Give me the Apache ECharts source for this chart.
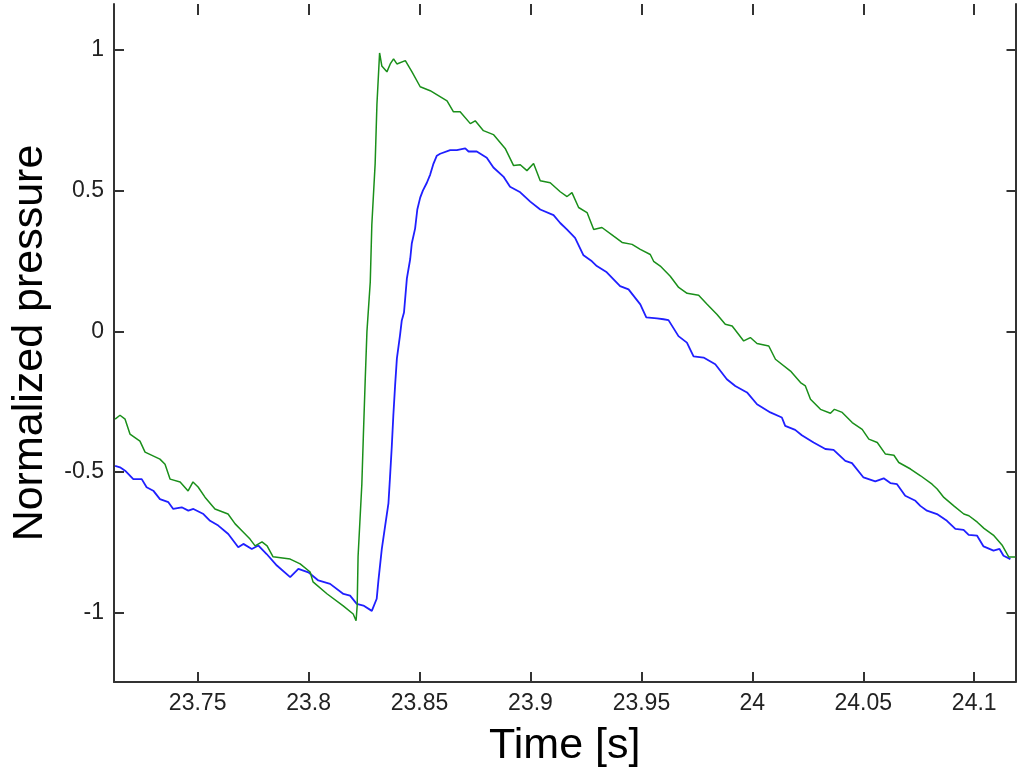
<!DOCTYPE html>
<html>
<head>
<meta charset="utf-8">
<script src="https://cdn.jsdelivr.net/npm/echarts@6/dist/echarts.min.js"></script>
<style>
html,body{margin:0;padding:0;background:#ffffff;}
#chart{width:1021px;height:773px;}
</style>
</head>
<body>
<div id="chart"></div>
<script>
// ---- data ----
var xTicks = [23.75, 23.8, 23.85, 23.9, 23.95, 24, 24.05, 24.1];
var yTicks = [-1, -0.5, 0, 0.5, 1];
var xRange = [23.7123, 24.1186];
var yRange = [-1.2457, 1.163];

var greenTime = [23.7128,23.7150,23.7173,23.7195,23.7240,23.7263,23.7330,23.7353,23.7376,23.7421,
23.7457,23.7479,23.7502,23.7533,23.7578,23.7637,23.7669,23.7705,23.7736,23.7759,
23.7790,23.7813,23.7840,23.7917,23.7962,23.8007,23.8020,23.8084,23.8156,23.8201,
23.8214,23.8219,23.8223,23.8240,23.8247,23.8255,23.8263,23.8278,23.8285,23.8300,
23.8308,23.8320,23.8330,23.8353,23.8368,23.8383,23.8398,23.8436,23.8466,23.8503,
23.8548,23.8624,23.8653,23.8683,23.8729,23.8751,23.8788,23.8833,23.8886,23.8924,
23.8954,23.8984,23.9014,23.9044,23.9089,23.9134,23.9165,23.9187,23.9217,23.9255,
23.9285,23.9322,23.9375,23.9413,23.9458,23.9495,23.9540,23.9555,23.9585,23.9630,
23.9668,23.9706,23.9758,23.9796,23.9841,23.9878,23.9909,23.9961,23.9991,24.0021,
24.0074,24.0104,24.0172,24.0217,24.0239,24.0262,24.0307,24.0352,24.0370,24.0405,
24.0450,24.0495,24.0525,24.0563,24.0600,24.0638,24.0660,24.0713,24.0758,24.0810,
24.0833,24.0863,24.0908,24.0953,24.0976,24.1014,24.1044,24.1089,24.1127,24.1156,
24.1186];
var greenPressure = [-0.312,-0.298,-0.312,-0.365,-0.390,-0.429,-0.454,-0.472,-0.525,-0.535,
-0.567,-0.535,-0.553,-0.589,-0.631,-0.649,-0.684,-0.713,-0.738,-0.762,
-0.748,-0.762,-0.801,-0.809,-0.826,-0.855,-0.890,-0.933,-0.975,-1.004,
-1.028,-0.975,-0.801,-0.543,-0.367,-0.177,0.000,0.176,0.379,0.596,
0.806,0.989,0.943,0.922,0.950,0.968,0.950,0.962,0.922,0.869,
0.855,0.819,0.780,0.780,0.738,0.748,0.713,0.699,0.650,0.589,
0.592,0.571,0.596,0.535,0.528,0.496,0.479,0.493,0.440,0.422,
0.362,0.369,0.338,0.316,0.309,0.291,0.273,0.249,0.232,0.196,
0.156,0.135,0.128,0.096,0.060,0.025,0.019,-0.034,-0.022,-0.043,
-0.052,-0.099,-0.141,-0.182,-0.194,-0.241,-0.277,-0.291,-0.277,-0.288,
-0.324,-0.348,-0.383,-0.395,-0.436,-0.440,-0.466,-0.489,-0.513,-0.543,
-0.560,-0.590,-0.620,-0.649,-0.655,-0.678,-0.700,-0.726,-0.761,-0.802,
-0.802];

var blueTime = [23.7128,23.7150,23.7173,23.7210,23.7248,23.7270,23.7300,23.7330,23.7368,23.7390,
23.7428,23.7458,23.7481,23.7526,23.7556,23.7593,23.7638,23.7683,23.7706,23.7744,
23.7774,23.7811,23.7857,23.7917,23.7954,23.7999,23.8044,23.8097,23.8157,23.8187,
23.8217,23.8247,23.8285,23.8307,23.8315,23.8330,23.8345,23.8360,23.8367,23.8375,
23.8382,23.8390,23.8398,23.8412,23.8420,23.8430,23.8443,23.8458,23.8465,23.8480,
23.8490,23.8503,23.8515,23.8533,23.8548,23.8563,23.8578,23.8593,23.8638,23.8668,
23.8706,23.8721,23.8758,23.8803,23.8833,23.8878,23.8908,23.8954,23.8999,23.9044,
23.9104,23.9134,23.9164,23.9201,23.9239,23.9277,23.9299,23.9344,23.9404,23.9442,
23.9495,23.9522,23.9570,23.9600,23.9622,23.9667,23.9705,23.9735,23.9780,23.9833,
23.9885,23.9923,23.9976,24.0021,24.0081,24.0133,24.0148,24.0193,24.0223,24.0276,
24.0329,24.0366,24.0419,24.0449,24.0501,24.0554,24.0592,24.0622,24.0652,24.0689,
24.0735,24.0757,24.0787,24.0832,24.0877,24.0915,24.0952,24.0975,24.1013,24.1042,
24.1087,24.1114,24.1132,24.1163];
var bluePressure = [-0.478,-0.483,-0.495,-0.525,-0.525,-0.554,-0.566,-0.596,-0.607,-0.631,
-0.625,-0.637,-0.631,-0.649,-0.673,-0.690,-0.720,-0.767,-0.755,-0.773,
-0.761,-0.791,-0.832,-0.873,-0.844,-0.856,-0.885,-0.897,-0.933,-0.939,
-0.968,-0.974,-0.993,-0.950,-0.883,-0.773,-0.691,-0.610,-0.518,-0.408,
-0.298,-0.191,-0.096,-0.014,0.039,0.067,0.188,0.257,0.312,0.365,
0.433,0.475,0.500,0.528,0.557,0.596,0.624,0.631,0.644,0.644,
0.650,0.639,0.639,0.617,0.582,0.550,0.514,0.494,0.461,0.433,
0.413,0.385,0.362,0.332,0.270,0.249,0.232,0.210,0.161,0.149,
0.096,0.050,0.046,0.043,0.040,-0.017,-0.040,-0.089,-0.093,-0.117,
-0.170,-0.194,-0.217,-0.259,-0.288,-0.306,-0.336,-0.350,-0.369,-0.395,
-0.418,-0.421,-0.460,-0.468,-0.519,-0.533,-0.522,-0.539,-0.543,-0.584,
-0.602,-0.620,-0.637,-0.649,-0.673,-0.702,-0.705,-0.723,-0.726,-0.764,
-0.779,-0.773,-0.797,-0.809];

// ---- build chart ----
function pairs(t, v) { return t.map(function (x, i) { return [x, v[i]]; }); }

var FONT = 'Liberation Sans, Arial, sans-serif';
var AXIS_COLOR = '#333333';

var chart = echarts.init(document.getElementById('chart'), null, {renderer: 'canvas'});
chart.setOption({
  backgroundColor: '#ffffff',
  animation: false,
  grid: {left: 114, right: 5.5, top: 4, bottom: 91, containLabel: false},
  xAxis: [{
    type: 'value', position: 'bottom', min: xRange[0], max: xRange[1],
    name: 'Time [s]', nameLocation: 'middle', nameGap: 43,
    nameTextStyle: {fontFamily: FONT, fontSize: 43, color: '#000'},
    axisLine: {show: true, onZero: false, lineStyle: {color: AXIS_COLOR, width: 2}},
    axisTick: {show: true, inside: true, length: 10, customValues: xTicks, lineStyle: {color: AXIS_COLOR, width: 2}},
    axisLabel: {show: true, customValues: xTicks, margin: 10, fontFamily: FONT, fontSize: 23, color: '#222',
      formatter: function (v) { return String(+v.toFixed(4)); }},
    splitLine: {show: false}
  }, {
    type: 'value', position: 'top', min: xRange[0], max: xRange[1],
    axisLine: {show: false, onZero: false},
    axisTick: {show: true, inside: true, length: 11, customValues: xTicks, lineStyle: {color: AXIS_COLOR, width: 2}},
    axisLabel: {show: false},
    splitLine: {show: false}
  }],
  yAxis: [{
    type: 'value', position: 'left', min: yRange[0], max: yRange[1],
    name: 'Normalized pressure', nameLocation: 'middle', nameGap: 62, nameRotate: 90,
    nameTextStyle: {fontFamily: FONT, fontSize: 43, color: '#000'},
    axisLine: {show: true, onZero: false, lineStyle: {color: AXIS_COLOR, width: 2}},
    axisTick: {show: true, inside: true, length: 10, customValues: yTicks, lineStyle: {color: AXIS_COLOR, width: 2}},
    axisLabel: {show: true, customValues: yTicks, margin: 10, fontFamily: FONT, fontSize: 23, color: '#222',
      formatter: function (v) { return String(+v.toFixed(4)); }},
    splitLine: {show: false}
  }, {
    type: 'value', position: 'right', min: yRange[0], max: yRange[1],
    axisLine: {show: true, onZero: false, lineStyle: {color: AXIS_COLOR, width: 2}},
    axisTick: {show: true, inside: true, length: 9, customValues: yTicks, lineStyle: {color: AXIS_COLOR, width: 2}},
    axisLabel: {show: false},
    splitLine: {show: false}
  }],
  series: [{
    name: 'green', type: 'line', xAxisIndex: 0, yAxisIndex: 0,
    data: pairs(greenTime, greenPressure), showSymbol: false, symbol: 'none',
    lineStyle: {color: '#1a8f1a', width: 1.5}, z: 3
  }, {
    name: 'blue', type: 'line', xAxisIndex: 0, yAxisIndex: 0,
    data: pairs(blueTime, bluePressure), showSymbol: false, symbol: 'none',
    lineStyle: {color: '#1f1fff', width: 1.8}, z: 2
  }]
});
</script>
</body>
</html>
